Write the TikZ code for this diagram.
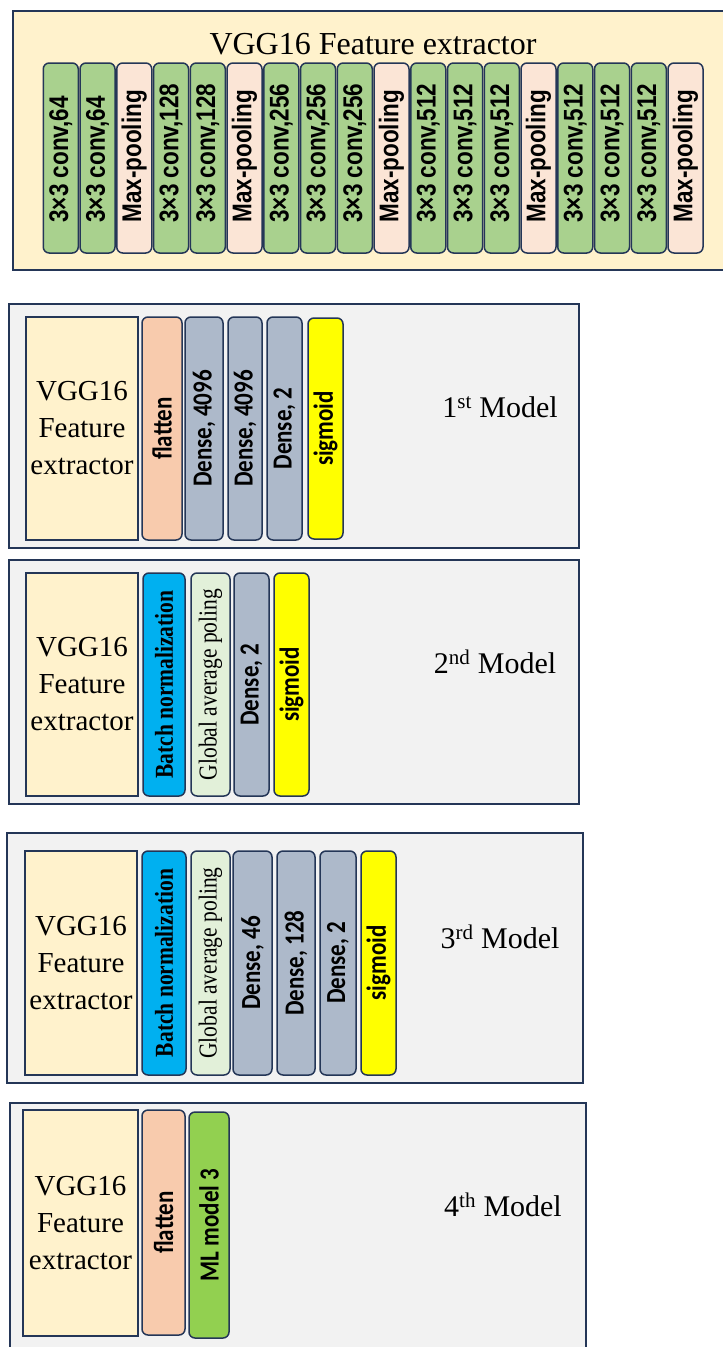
\documentclass[tikz,border=0pt]{standalone}
\usepackage{graphicx}
\usepackage{fontspec}
\setmainfont{Liberation Serif}
\newfontfamily\arialfont{Liberation Sans}
\newfontfamily\califont{Carlito}
\usetikzlibrary{calc}
\definecolor{EdgeClr}{HTML}{243657}
\definecolor{PanelClr}{HTML}{F2F2F2}
\definecolor{VggClr}{HTML}{FFF2CC}
\definecolor{ConvClr}{HTML}{A9D18E}
\definecolor{PoolClr}{HTML}{FBE5D6}
\definecolor{FlatClr}{HTML}{F8CBAD}
\definecolor{DenseClr}{HTML}{ADB9CA}
\definecolor{SigClr}{HTML}{FFFF00}
\definecolor{BatchClr}{HTML}{00B0F0}
\definecolor{GapClr}{HTML}{E2F0D9}
\definecolor{MlClr}{HTML}{92D050}

% rotated labels look a bit wider across in the drawing
\newcommand{\vtxt}[1]{\scalebox{1}[1.2]{#1}}

\tikzset{
  panel/.style={draw=EdgeClr,line width=2pt,fill=PanelClr},
  layer/.style={draw=EdgeClr,line width=1.5pt,rounded corners=6pt,inner sep=0pt},
  convblk/.style={layer,minimum width=35pt,minimum height=190pt},
  convtxt/.style={rotate=90,anchor=west,inner sep=0pt,font=\arialfont\bfseries\fontsize{22.5}{27}\selectfont},
  vblk/.style={layer,rotate=90,font=\califont\bfseries\fontsize{23}{28}\selectfont},
  serifblk/.style={font=\bfseries\fontsize{21.5}{24}\selectfont},
  vggbox/.style={draw=EdgeClr,line width=1.5pt,fill=VggClr,align=center,inner sep=0pt,font=\fontsize{29}{37}\selectfont},
  mlabel/.style={font=\fontsize{30}{36}\selectfont}
}

\begin{document}
\begin{tikzpicture}[x=1pt,y=-1pt]
\useasboundingbox (0,0) rectangle (723,1347);
\clip (0,0) rectangle (723,1347);

% VGG16 backbone
\draw[panel,fill=VggClr] (13,11) rectangle (740,270);
\node[font=\fontsize{32}{37}\selectfont,anchor=base] (ttl) at (373,54) {VGG16 Feature extractor};
\foreach \lbl/\clr [count=\i] in {{3×3 conv,64}/ConvClr,{3×3 conv,64}/ConvClr,Max-pooling/PoolClr,
  {3×3 conv,128}/ConvClr,{3×3 conv,128}/ConvClr,Max-pooling/PoolClr,
  {3×3 conv,256}/ConvClr,{3×3 conv,256}/ConvClr,{3×3 conv,256}/ConvClr,Max-pooling/PoolClr,
  {3×3 conv,512}/ConvClr,{3×3 conv,512}/ConvClr,{3×3 conv,512}/ConvClr,Max-pooling/PoolClr,
  {3×3 conv,512}/ConvClr,{3×3 conv,512}/ConvClr,{3×3 conv,512}/ConvClr,Max-pooling/PoolClr}
{
  \node[convblk,fill=\clr] (c\i) at ({60.75+36.75*(\i-1)},158) {};
  \node[convtxt] (t\i) at ([yshift=31pt]c\i.south) {\vtxt{\lbl}};
}

% 1st model
\draw[panel] (9,304) rectangle (579,548);
\node[vggbox,minimum width=112pt,minimum height=223pt] (v1) at (82,428.5) {VGG16\\Feature\\extractor};
\node[vblk,fill=FlatClr,minimum width=223pt,minimum height=40pt] (m1flat) at (162,428.5) {\vtxt{flatten}};
\node[vblk,fill=DenseClr,minimum width=223pt,minimum height=38pt] (m1da) at (204,428.5) {\vtxt{Dense, 4096}};
\node[vblk,fill=DenseClr,minimum width=223pt,minimum height=34pt] (m1db) at (245,428.5) {\vtxt{Dense, 4096}};
\node[vblk,fill=DenseClr,minimum width=223pt,minimum height=35pt] (m1dc) at (284.5,428.5) {\vtxt{Dense, 2}};
\node[vblk,fill=SigClr,minimum width=221pt,minimum height=35pt] (m1sig) at (325.5,428.5) {\vtxt{sigmoid}};
\node[mlabel] (n1) at (500,407) {1\textsuperscript{st} Model};

% 2nd model
\draw[panel] (9,560) rectangle (579,804);
\node[vggbox,minimum width=112pt,minimum height=223pt] (v2) at (82,684.5) {VGG16\\Feature\\extractor};
\node[vblk,serifblk,fill=BatchClr,minimum width=223pt,minimum height=42pt] (m2bn) at (164,684.5) {\vtxt{Batch normalization}};
\node[vblk,font=\fontsize{21.5}{24}\selectfont,fill=GapClr,minimum width=223pt,minimum height=39pt] (m2gap) at (210.5,684.5) {\vtxt{Global average poling}};
\node[vblk,fill=DenseClr,minimum width=223pt,minimum height=35pt] (m2d) at (251.5,684.5) {\vtxt{Dense, 2}};
\node[vblk,fill=SigClr,minimum width=223pt,minimum height=35pt] (m2sig) at (291.5,684.5) {\vtxt{sigmoid}};
\node[mlabel] (n2) at (495,662) {2\textsuperscript{nd} Model};

% 3rd model
\draw[panel] (7,833) rectangle (583,1083);
\node[vggbox,minimum width=112pt,minimum height=224pt] (v3) at (81,963) {VGG16\\Feature\\extractor};
\node[vblk,serifblk,fill=BatchClr,minimum width=224pt,minimum height=44pt] (m3bn) at (164,963) {\vtxt{Batch normalization}};
\node[vblk,font=\fontsize{21.5}{24}\selectfont,fill=GapClr,minimum width=224pt,minimum height=39pt] (m3gap) at (210.5,963) {\vtxt{Global average poling}};
\node[vblk,fill=DenseClr,minimum width=224pt,minimum height=39pt] (m3da) at (252.5,963) {\vtxt{Dense, 46}};
\node[vblk,fill=DenseClr,minimum width=224pt,minimum height=38pt] (m3db) at (296,963) {\vtxt{Dense, 128}};
\node[vblk,fill=DenseClr,minimum width=224pt,minimum height=36pt] (m3dc) at (338,963) {\vtxt{Dense, 2}};
\node[vblk,fill=SigClr,minimum width=224pt,minimum height=35pt] (m3sig) at (378.5,963) {\vtxt{sigmoid}};
\node[mlabel] (n3) at (500,937) {3\textsuperscript{rd} Model};

% 4th model
\draw[panel] (10,1103) rectangle (586,1380);
\node[vggbox,minimum width=115pt,minimum height=226pt] (v4) at (80.5,1223) {VGG16\\Feature\\extractor};
\node[vblk,fill=FlatClr,minimum width=225pt,minimum height=43pt] (m4flat) at (163.5,1222.5) {\vtxt{flatten}};
\node[vblk,fill=MlClr,minimum width=226pt,minimum height=40pt] (m4ml) at (209,1225) {\vtxt{ML model 3}};
\node[mlabel] (n4) at (503,1205) {4\textsuperscript{th} Model};

\end{tikzpicture}
\end{document}
